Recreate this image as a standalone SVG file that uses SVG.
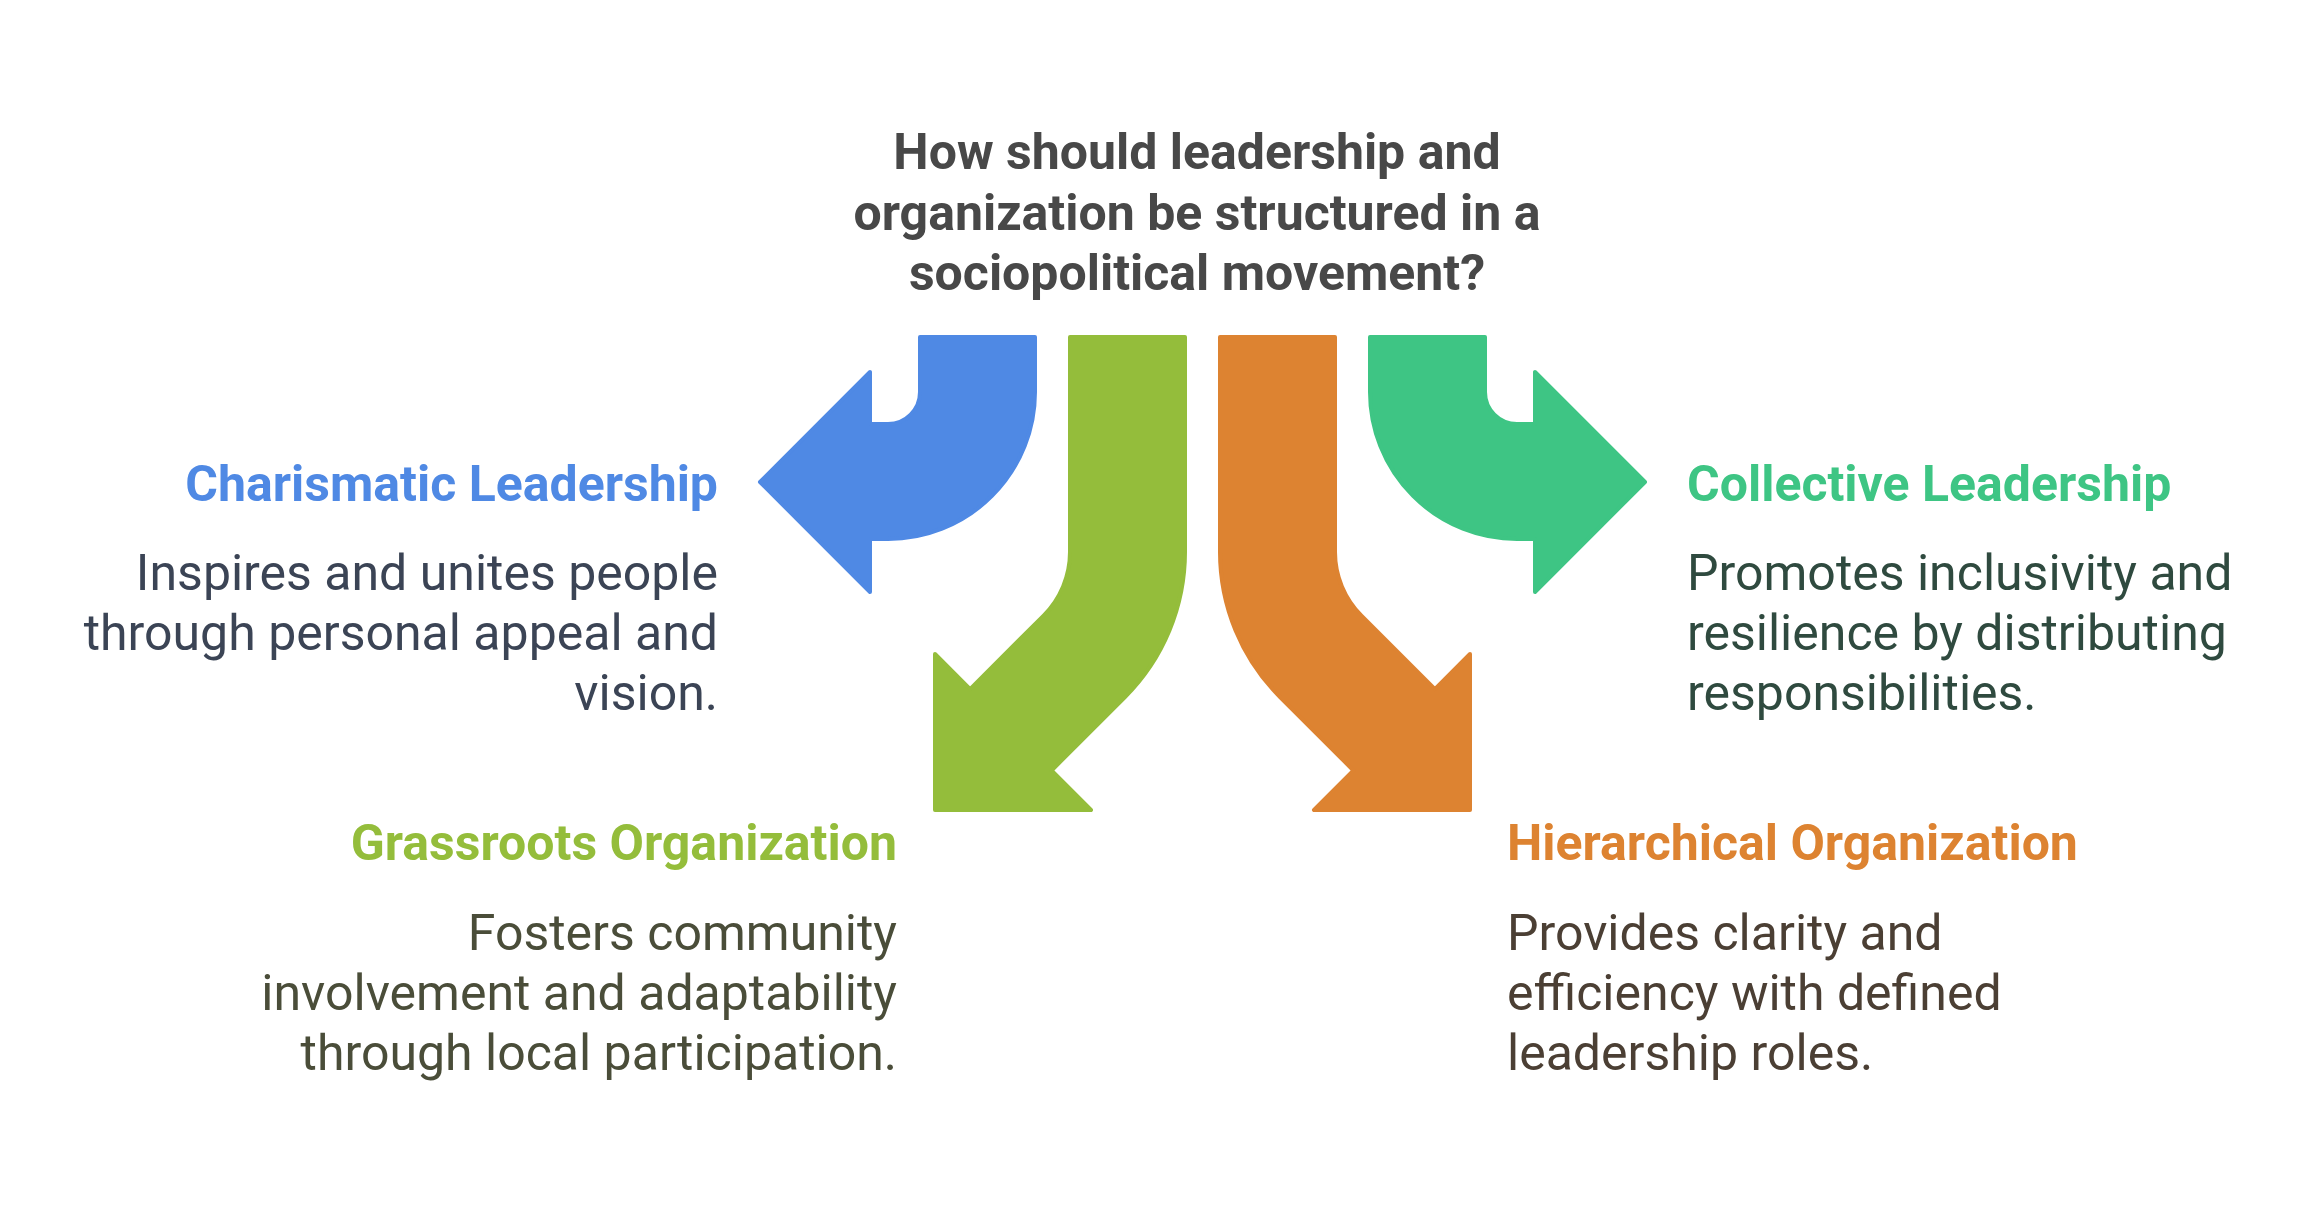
<svg xmlns="http://www.w3.org/2000/svg" width="2315" height="1205" viewBox="0 0 2315 1205">
<style>
.t{font-family:Roboto,"Liberation Sans",sans-serif;font-weight:700;font-size:50px;fill:#484848;text-anchor:middle}
.h{font-family:Roboto,"Liberation Sans",sans-serif;font-weight:700;font-size:50px}
.d{font-family:Roboto,"Liberation Sans",sans-serif;font-weight:400;font-size:50px}
.r{text-anchor:end}
.l{text-anchor:start}
.a{stroke-width:4;stroke-linejoin:round}
</style>
<rect width="2315" height="1205" fill="#ffffff"/>
<g id="title">
<text class="t" x="1197" y="169">How should leadership and</text>
<text class="t" x="1197" y="230">organization be structured in a</text>
<text class="t" x="1197" y="290">sociopolitical movement?</text>
</g>
<g id="connectors">
<path id="arrow-blue" class="a" fill="#4F89E4" stroke="#4F89E4" d="M920,337 H1035 V392 A147,147 0 0 1 888,539 H870 V592 L760,482 L870,372 V424 H888 A32,32 0 0 0 920,392 Z"/>
<path id="arrow-lime" class="a" fill="#94BD3B" stroke="#94BD3B" d="M1070,337 H1185 V552 A205,205 0 0 1 1125,697 L1051.5,770.5 L1091,810 H935 V654 L970.1,689.1 L1043.6,615.6 A90,90 0 0 0 1070,552 Z"/>
<path id="arrow-orange" class="a" fill="#DD8331" stroke="#DD8331" d="M1335,337 H1220 V552 A205,205 0 0 0 1280,697 L1353.5,770.5 L1314,810 H1470 V654 L1434.9,689.1 L1361.4,615.6 A90,90 0 0 1 1335,552 Z"/>
<path id="arrow-teal" class="a" fill="#3EC584" stroke="#3EC584" d="M1485,337 H1370 V392 A147,147 0 0 0 1517,539 H1535 V592 L1645,482 L1535,372 V424 H1517 A32,32 0 0 1 1485,392 Z"/>
</g>
<g id="node-charismatic">
<text class="h r" x="718" y="501" fill="#4F89E4">Charismatic Leadership</text>
<text class="d r" x="718" y="590" fill="#3B4455">Inspires and unites people</text>
<text class="d r" x="718" y="650" fill="#3B4455">through personal appeal and</text>
<text class="d r" x="718" y="710" fill="#3B4455">vision.</text>
</g>
<g id="node-collective">
<text class="h l" x="1687" y="501" fill="#3EC584">Collective Leadership</text>
<text class="d l" x="1687" y="590" fill="#2F4A3F">Promotes inclusivity and</text>
<text class="d l" x="1687" y="650" fill="#2F4A3F">resilience by distributing</text>
<text class="d l" x="1687" y="710" fill="#2F4A3F">responsibilities.</text>
</g>
<g id="node-grassroots">
<text class="h r" x="897" y="860" fill="#94BD3B">Grassroots Organization</text>
<text class="d r" x="897" y="950" fill="#4A4D39">Fosters community</text>
<text class="d r" x="897" y="1010" fill="#4A4D39">involvement and adaptability</text>
<text class="d r" x="897" y="1070" fill="#4A4D39">through local participation.</text>
</g>
<g id="node-hierarchical">
<text class="h l" x="1507" y="860" fill="#DD8331">Hierarchical Organization</text>
<text class="d l" x="1507" y="950" fill="#4B3F34">Provides clarity and</text>
<text class="d l" x="1507" y="1010" fill="#4B3F34">efficiency with defined</text>
<text class="d l" x="1507" y="1070" fill="#4B3F34">leadership roles.</text>
</g>
</svg>
